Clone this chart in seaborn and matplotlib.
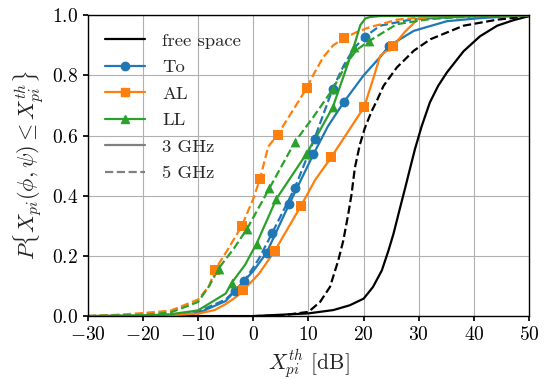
import matplotlib
matplotlib.use("Agg")
import matplotlib.pyplot as plt
from matplotlib.lines import Line2D
import seaborn as sns
import pandas as pd

# ---------------- data ----------------
fs3_x = [-30, 0, 10, 14.5, 17.5, 20, 21.7, 23.3, 24.5, 25.4, 26.6, 27.65, 28.4, 29.3, 30.5, 32.0, 33.5, 35.1, 38.1, 41.1, 44.2, 47.1, 50]
fs3_y = [0, 0.0, 0.009, 0.02, 0.036, 0.058, 0.097, 0.152, 0.218, 0.273, 0.36, 0.435, 0.49, 0.555, 0.63, 0.71, 0.765, 0.81, 0.88, 0.93, 0.965, 0.983, 0.997]

fs5_x = [-30, 0, 5, 10, 12.1, 13.9, 15.4, 16.3, 17.2, 17.8, 18.4, 19.3, 20.2, 21.4, 22.5, 23.6, 26, 29.1, 32.1, 38.1, 44.2, 50]
fs5_y = [0, 0, 0.002, 0.014, 0.047, 0.097, 0.185, 0.25, 0.338, 0.404, 0.492, 0.569, 0.624, 0.679, 0.72, 0.765, 0.826, 0.882, 0.92, 0.965, 0.985, 0.997]

to3_x = [-30, -20, -15, -10, -5, -3.3, 0, 2.4, 6.5, 10.9, 13.5, 16.4, 20, 23, 24.6, 29.1, 35.1, 41, 50]
to3_y = [0, 0.001, 0.003, 0.01, 0.05, 0.084, 0.15, 0.21, 0.372, 0.538, 0.63, 0.711, 0.8, 0.861, 0.898, 0.948, 0.98, 0.99, 1.0]
to3_mx = [-3.3, 2.4, 6.5, 10.9, 16.4, 24.6]
to3_my = [0.084, 0.21, 0.372, 0.538, 0.711, 0.898]

to5_x = [-30, -20, -15, -10, -5, -1.6, 1, 3.4, 7.55, 11.1, 14.4, 16.4, 18.2, 20.2, 23, 29, 38, 50]
to5_y = [0, 0.002, 0.005, 0.015, 0.055, 0.117, 0.19, 0.275, 0.427, 0.59, 0.756, 0.833, 0.889, 0.928, 0.965, 0.987, 0.995, 1.0]
to5_mx = [-1.6, 3.4, 7.55, 11.1, 14.4, 20.2]
to5_my = [0.117, 0.275, 0.427, 0.59, 0.756, 0.928]

al3_x = [-30, -20, -15, -10, -7, -5, -3, -1.8, 1, 3.9, 8.6, 11.2, 14.1, 20.1, 21.8, 23, 25.4, 27.5, 30, 35, 50]
al3_y = [0, 0.001, 0.003, 0.008, 0.02, 0.04, 0.065, 0.086, 0.14, 0.217, 0.365, 0.452, 0.527, 0.695, 0.793, 0.865, 0.898, 0.945, 0.99, 0.998, 1.0]
al3_mx = [-1.8, 3.9, 8.6, 14.1, 20.1, 25.4]
al3_my = [0.086, 0.217, 0.365, 0.527, 0.695, 0.898]

al5_x = [-30, -25, -20, -15, -10, -8, -6.95, -4.5, -2.1, 0, 1.2, 2.7, 4.4, 9.7, 11.0, 12.7, 14.5, 16.4, 18.8, 21.2, 23, 26, 32, 40, 50]
al5_y = [0, 0.004, 0.01, 0.018, 0.055, 0.1, 0.153, 0.225, 0.299, 0.39, 0.455, 0.563, 0.602, 0.758, 0.806, 0.861, 0.9, 0.924, 0.944, 0.961, 0.969, 0.985, 0.995, 0.999, 1.0]
al5_mx = [-6.95, -2.1, 1.2, 4.4, 9.7, 16.4]
al5_my = [0.153, 0.299, 0.455, 0.602, 0.758, 0.924]

ll3_x = [-30, -20, -15, -10, -5, -3.9, -1.5, 0.6, 4.2, 9.55, 12.1, 14.4, 18.2, 19.4, 20.3, 21.2, 23, 50]
ll3_y = [0, 0.002, 0.006, 0.019, 0.075, 0.111, 0.17, 0.241, 0.39, 0.537, 0.618, 0.694, 0.894, 0.967, 0.989, 0.994, 0.997, 1.0]
ll3_mx = [-3.9, 0.6, 4.2, 9.55, 14.4, 18.2]
ll3_my = [0.111, 0.241, 0.39, 0.537, 0.694, 0.894]

ll5_x = [-30, -20, -15, -10, -8, -6.3, -3.5, -1.1, 2.9, 7.55, 10.9, 14.4, 16.9, 18.7, 20.9, 26, 32, 40, 50]
ll5_y = [0, 0.004, 0.012, 0.047, 0.1, 0.158, 0.225, 0.291, 0.424, 0.579, 0.662, 0.754, 0.839, 0.884, 0.913, 0.97, 0.987, 0.996, 1.0]
ll5_mx = [-6.3, -1.1, 2.9, 7.55, 14.4, 20.9]
ll5_my = [0.158, 0.291, 0.424, 0.579, 0.754, 0.913]

legend_labels = ["free space", "To", "AL", "LL", "3 GHz", "5 GHz"]
x_ticks = [-30, -20, -10, 0, 10, 20, 30, 40, 50]
y_ticks = [0.0, 0.2, 0.4, 0.6, 0.8, 1.0]

# ---------------- style ----------------
sns.set_theme(style="ticks")
plt.rcParams.update({
    "font.family": "serif",
    "font.serif": ["cmr10"],
    "mathtext.fontset": "cm",
    "axes.formatter.use_mathtext": True,
    "axes.edgecolor": "black",
    "axes.linewidth": 1.0,
    "xtick.color": "black",
    "ytick.color": "black",
    "xtick.major.size": 3.5,
    "ytick.major.size": 3.5,
})

blue, orange, green = "#1f77b4", "#ff7f0e", "#2ca02c"

fig = plt.figure(figsize=(5.45, 3.79), dpi=100)
ax = fig.add_axes([0.161, 0.166, 0.81, 0.794])

curves = [
    (fs3_x, fs3_y, "black", "-", None, None, None),
    (fs5_x, fs5_y, "black", "--", None, None, None),
    (to3_x, to3_y, blue, "-", to3_mx, to3_my, "o"),
    (to5_x, to5_y, blue, "--", to5_mx, to5_my, "o"),
    (al3_x, al3_y, orange, "-", al3_mx, al3_my, "s"),
    (al5_x, al5_y, orange, "--", al5_mx, al5_my, "s"),
    (ll3_x, ll3_y, green, "-", ll3_mx, ll3_my, "^"),
    (ll5_x, ll5_y, green, "--", ll5_mx, ll5_my, "^"),
]

for xs, ys, c, ls, mx, my, mk in curves:
    df = pd.DataFrame({"x": xs, "y": ys})
    sns.lineplot(data=df, x="x", y="y", ax=ax, color=c, linestyle=ls,
                 linewidth=1.6, sort=False, estimator=None, legend=False)
    if mx is not None:
        dm = pd.DataFrame({"x": mx, "y": my})
        sns.scatterplot(data=dm, x="x", y="y", ax=ax, color=c, marker=mk,
                        s=50, linewidth=0, legend=False, zorder=3)

ax.set_xlim(-30, 50)
ax.set_ylim(0, 1)
ax.set_xticks(x_ticks)
ax.set_yticks(y_ticks)
ax.grid(True, color="#b0b0b0", linewidth=0.8)
ax.set_axisbelow(True)
ax.tick_params(labelsize=14)
ax.set_xlabel(r"$X_{pi}^{th}$ [dB]", fontsize=15.5, labelpad=2)
ax.set_ylabel(r"$P\{X_{pi}(\phi,\psi) \leq X_{pi}^{th}\}$", fontsize=16, labelpad=4)

handles = [
    Line2D([], [], color="black", lw=1.6),
    Line2D([], [], color=blue, lw=1.6, marker="o", markersize=6),
    Line2D([], [], color=orange, lw=1.6, marker="s", markersize=6),
    Line2D([], [], color=green, lw=1.6, marker="^", markersize=6),
    Line2D([], [], color="grey", lw=1.6, ls="-"),
    Line2D([], [], color="grey", lw=1.6, ls="--"),
]
ax.legend(handles, legend_labels, loc="upper left", frameon=False,
          fontsize=13.4, handlelength=2.15, labelspacing=0.56,
          handletextpad=0.9, borderaxespad=0.55, bbox_to_anchor=(0.0, 1.0))

fig.savefig("out.png", dpi=100)
